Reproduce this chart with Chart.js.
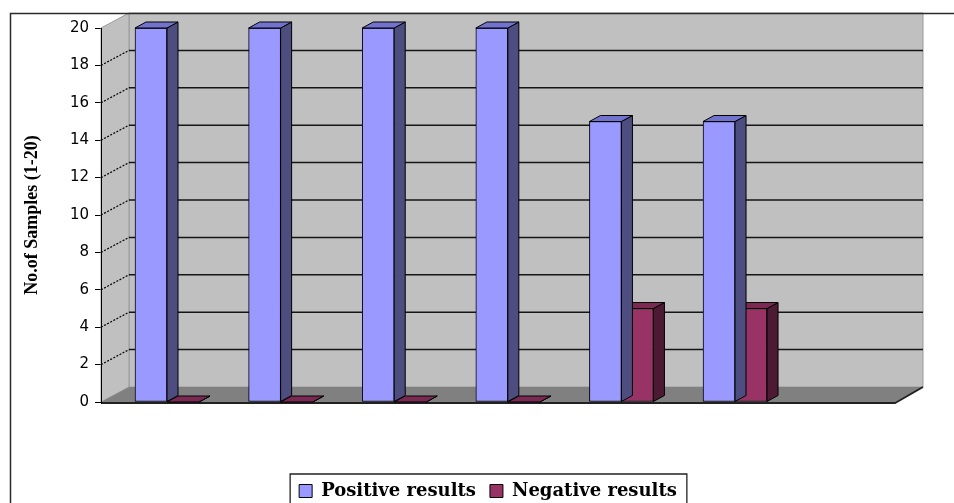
<!DOCTYPE html>
<html><head><meta charset="utf-8">
<script src="https://cdn.jsdelivr.net/npm/chart.js@4.4.0/dist/chart.umd.min.js"></script>
<style>html,body{margin:0;padding:0;background:#fff;}canvas{display:block;}</style>
</head><body>
<canvas id="c" width="954" height="503"></canvas>
<script>
// ---- data ----
const categories = ['1', '2', '3', '4', '5', '6'];
const positiveResults = [20, 20, 20, 20, 15, 15];
const negativeResults = [0, 0, 0, 0, 5, 5];
const seriesNames = ['Positive results', 'Negative results'];
const yTitle = 'No.of Samples (1-20)';
const yMin = 0, yMax = 20, yStep = 2;

// ---- style ----
const STYLE = {
  pos: {front: '#9999FF', side: '#4D4D80', top: '#7272CF'},
  neg: {front: '#993366', side: '#4D1A33', top: '#7A2952'}
};
const DX = 28, DY = -15;   // wall depth
const BDX = 11, BDY = -6;  // bar depth

function poly(ctx, pts, fill, stroke, lw) {
  ctx.beginPath();
  ctx.moveTo(pts[0][0], pts[0][1]);
  for (let i = 1; i < pts.length; i++) ctx.lineTo(pts[i][0], pts[i][1]);
  ctx.closePath();
  if (fill) { ctx.fillStyle = fill; ctx.fill(); }
  if (stroke) { ctx.strokeStyle = stroke; ctx.lineWidth = lw || 1; ctx.stroke(); }
}

const wallPlugin = {
  id: 'walls',
  beforeDatasetsDraw(chart) {
    const {ctx, chartArea: {left: L, right: R}, scales: {y}} = chart;
    const y0 = y.getPixelForValue(yMin), yT = y.getPixelForValue(yMax);
    ctx.save();
    poly(ctx, [[L + DX, yT + DY], [R + DX, yT + DY], [R + DX, y0 + DY], [L + DX, y0 + DY]], '#C0C0C0', '#9a9a9a', 1);
    poly(ctx, [[L, yT], [L + DX, yT + DY], [L + DX, y0 + DY], [L, y0]], '#C0C0C0', '#9a9a9a', 1);
    poly(ctx, [[L, y0], [L + DX, y0 + DY], [R + DX, y0 + DY], [R, y0]], '#808080');
    for (let v = yMin + yStep; v < yMax; v += yStep) {
      const py = y.getPixelForValue(v);
      ctx.setLineDash([]);
      ctx.strokeStyle = '#151515'; ctx.lineWidth = 1.5;
      ctx.beginPath(); ctx.moveTo(L + DX, py + DY); ctx.lineTo(R + DX, py + DY); ctx.stroke();
      ctx.setLineDash([2, 1.5]);
      ctx.strokeStyle = '#000'; ctx.lineWidth = 1.2;
      ctx.beginPath(); ctx.moveTo(L, py); ctx.lineTo(L + DX, py + DY); ctx.stroke();
    }
    ctx.setLineDash([]);
    ctx.strokeStyle = '#222'; ctx.lineWidth = 2;
    ctx.beginPath(); ctx.moveTo(L, y0 + 1); ctx.lineTo(R, y0 + 1); ctx.lineTo(R + DX, y0 + DY); ctx.stroke();
    ctx.strokeStyle = '#000'; ctx.lineWidth = 1;
    ctx.beginPath(); ctx.moveTo(L + 0.5, yT); ctx.lineTo(L + 0.5, y0 + 2); ctx.stroke();
    ctx.restore();
  },
  afterDatasetDraw(chart, args) {
    const {ctx} = chart;
    const st = args.index === 0 ? STYLE.pos : STYLE.neg;
    ctx.save();
    args.meta.data.forEach(bar => {
      const {x, y, base, width} = bar.getProps(['x', 'y', 'base', 'width'], true);
      const l = x - width / 2, r = x + width / 2;
      poly(ctx, [[r, y], [r + BDX, y + BDY], [r + BDX, base + BDY], [r, base]], st.side, '#000', 1);
      poly(ctx, [[l, y], [l + BDX, y + BDY], [r + BDX, y + BDY], [r, y]], st.top, '#000', 1);
    });
    ctx.restore();
  },
  afterDraw(chart) {
    const {ctx, legend} = chart;
    ctx.save();
    ctx.strokeStyle = '#2a2a2a'; ctx.lineWidth = 1.5;
    ctx.beginPath(); ctx.moveTo(10.5, 503); ctx.lineTo(10.5, 13.5); ctx.lineTo(954, 13.5); ctx.stroke();
    const hb = legend.legendHitBoxes;
    if (hb && hb.length) {
      const first = hb[0], last = hb[hb.length - 1];
      const lx = first.left - 9, rx = last.left + last.width + 10, ty = first.top - 8;
      ctx.strokeStyle = '#222'; ctx.lineWidth = 1.3;
      ctx.beginPath(); ctx.moveTo(lx, 510); ctx.lineTo(lx, ty); ctx.lineTo(rx, ty); ctx.lineTo(rx, 510); ctx.stroke();
    }
    ctx.restore();
  }
};

const xMin = -0.581, xMax = 6.408;

new Chart(document.getElementById('c'), {
  type: 'bar',
  data: {
    labels: categories,
    datasets: [
      {label: seriesNames[0], data: positiveResults.map((v, i) => ({x: i, y: v})),
       backgroundColor: STYLE.pos.front, borderColor: '#000', borderWidth: 1, borderSkipped: false},
      {label: seriesNames[1], data: negativeResults.map((v, i) => ({x: i, y: v})),
       backgroundColor: STYLE.neg.front, borderColor: '#000', borderWidth: 1, borderSkipped: false}
    ]
  },
  options: {
    responsive: false,
    animation: false,
    devicePixelRatio: 1,
    barThickness: 32,
    layout: {padding: {left: 22, right: 0, top: 28, bottom: -7}},
    plugins: {
      tooltip: {enabled: false},
      legend: {
        position: 'bottom',
        labels: {
          boxWidth: 13, boxHeight: 13, padding: 14, color: '#000',
          font: {family: 'DejaVu Serif', size: 18, weight: 'bold'}
        }
      }
    },
    scales: {
      x: {
        type: 'linear', min: xMin, max: xMax, offset: false, display: true,
        ticks: {display: false}, grid: {display: false, offset: false}, border: {display: false},
        afterFit(s) { s.height = 66; }
      },
      y: {
        min: yMin, max: yMax,
        ticks: {stepSize: yStep, color: '#000', padding: 6, font: {family: 'DejaVu Sans', size: 15}},
        grid: {drawOnChartArea: false, tickLength: 6, color: '#000'},
        border: {display: false},
        title: {display: true, text: yTitle, color: '#000', padding: 0,
                font: {family: 'Liberation Serif', size: 18, weight: 'bold'}},
        afterFit(s) { s.width = 79; }
      },
      yR: {
        position: 'right', display: true,
        ticks: {display: false}, grid: {display: false}, border: {display: false},
        afterFit(s) { s.width = 59; }
      }
    }
  },
  plugins: [wallPlugin]
});
</script>
</body></html>
